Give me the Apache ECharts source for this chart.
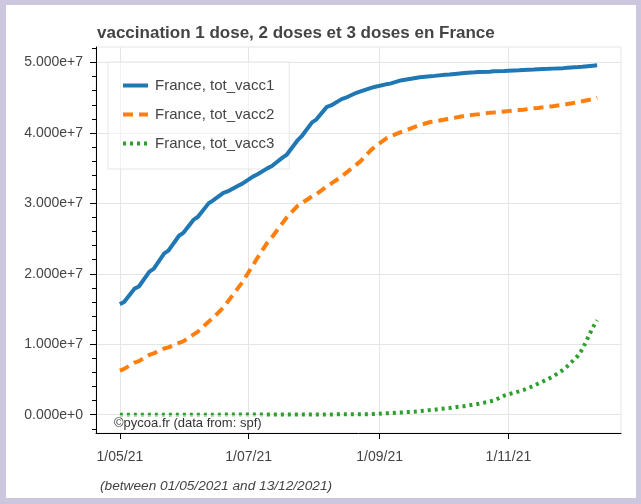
<!DOCTYPE html>
<html>
<head>
<meta charset="utf-8">
<title>vaccination France</title>
<script src="https://cdn.jsdelivr.net/npm/echarts@6/dist/echarts.min.js"></script>
<style>
  html, body { margin: 0; padding: 0; background: #cdc6df; }
  #chart { width: 641px; height: 504px; }
</style>
</head>
<body>
<div id="chart"></div>
<script>
// Sample dates (Saturdays and Mondays), cumulative counts in millions
const dates = [
  '2021-05-01','2021-05-03','2021-05-08','2021-05-10','2021-05-15','2021-05-17','2021-05-22','2021-05-24',
  '2021-05-29','2021-05-31','2021-06-05','2021-06-07','2021-06-12','2021-06-14','2021-06-19','2021-06-21',
  '2021-06-26','2021-06-28','2021-07-03','2021-07-05','2021-07-10','2021-07-12','2021-07-17','2021-07-19',
  '2021-07-24','2021-07-26','2021-07-31','2021-08-02','2021-08-07','2021-08-09','2021-08-14','2021-08-16',
  '2021-08-21','2021-08-23','2021-08-28','2021-08-30','2021-09-04','2021-09-06','2021-09-11','2021-09-13',
  '2021-09-18','2021-09-20','2021-09-25','2021-09-27','2021-10-02','2021-10-04','2021-10-09','2021-10-11',
  '2021-10-16','2021-10-18','2021-10-23','2021-10-25','2021-10-30','2021-11-01','2021-11-06','2021-11-08',
  '2021-11-13','2021-11-15','2021-11-20','2021-11-22','2021-11-27','2021-11-29','2021-12-04','2021-12-06',
  '2021-12-11','2021-12-13'
];

const totVacc1 = [
  15.7, 16.0, 17.9, 18.2, 20.3, 20.7, 22.9, 23.3,
  25.4, 25.8, 27.7, 28.1, 30.0, 30.4, 31.5, 31.7,
  32.5, 32.8, 33.8, 34.1, 35.0, 35.3, 36.5, 36.9,
  38.9, 39.5, 41.5, 41.9, 43.7, 43.9, 44.8, 45.0,
  45.7, 45.9, 46.4, 46.55, 46.9, 47.0, 47.45, 47.55,
  47.8, 47.9, 48.05, 48.1, 48.25, 48.3, 48.45, 48.5,
  48.6, 48.65, 48.7, 48.75, 48.8, 48.83, 48.9, 48.93,
  49.0, 49.03, 49.1, 49.13, 49.2, 49.25, 49.35, 49.4,
  49.55, 49.6
];

const totVacc2 = [
  6.25, 6.5, 7.4, 7.6, 8.5, 8.7, 9.4, 9.55,
  10.2, 10.4, 11.4, 11.8, 13.2, 13.7, 15.2, 16.0,
  18.0, 18.8, 21.2, 22.2, 24.5, 25.2, 27.2, 28.0,
  29.6, 30.0, 31.0, 31.3, 32.4, 32.8, 33.8, 34.3,
  35.5, 36.0, 37.6, 38.1, 39.2, 39.5, 40.1, 40.3,
  40.9, 41.1, 41.55, 41.65, 41.9, 42.0, 42.3, 42.4,
  42.6, 42.65, 42.85, 42.9, 43.05, 43.1, 43.25, 43.3,
  43.5, 43.55, 43.75, 43.8, 44.0, 44.1, 44.35, 44.5,
  44.8, 45.0
];

const totVacc3 = [
  0.00, 0.00, 0.00, 0.00, 0.00, 0.00, 0.00, 0.00,
  0.00, 0.00, 0.00, 0.00, 0.00, 0.00, 0.01, 0.01,
  0.01, 0.01, 0.01, 0.01, 0.02, 0.02, 0.02, 0.02,
  0.03, 0.03, 0.03, 0.03, 0.04, 0.04, 0.05, 0.05,
  0.06, 0.06, 0.08, 0.10, 0.20, 0.22, 0.30, 0.35,
  0.45, 0.50, 0.65, 0.70, 0.90, 0.95, 1.15, 1.20,
  1.45, 1.55, 1.85, 2.00, 2.70, 2.90, 3.30, 3.50,
  4.10, 4.40, 5.10, 5.40, 6.40, 6.90, 8.40, 9.30,
  12.4, 13.4
];

const seriesNames = ['France, tot_vacc1', 'France, tot_vacc2', 'France, tot_vacc3'];
const seriesColors = ['#1f77b4', '#ff7f0e', '#2ca02c'];

const xTickDates = ['2021-05-01', '2021-07-01', '2021-09-01', '2021-11-01'];
const yTickValues = [0, 1e7, 2e7, 3e7, 4e7, 5e7];

const titleText = 'vaccination 1 dose, 2 doses et 3 doses en France';
const footerText = '(between 01/05/2021 and 13/12/2021)';
const creditText = '\u00a9pycoa.fr (data from: spf)';

// x positions are day numbers counted from the first date
const DAY = 86400000;
const toTime = s => { const p = s.split('-').map(Number); return Date.UTC(p[0], p[1] - 1, p[2]); };
const t0 = toTime(dates[0]);
const toDay = s => Math.round((toTime(s) - t0) / DAY);
const pad2 = n => (n < 10 ? '0' : '') + n;
const fmtDay = v => {
  const d = new Date(t0 + Math.round(v) * DAY);
  return d.getUTCDate() + '/' + pad2(d.getUTCMonth() + 1) + '/' + String(d.getUTCFullYear()).slice(2);
};

// 5 % range padding on both sides of the data span
const dFirst = 0;
const dLast = toDay(dates[dates.length - 1]);
const xPad = (dLast - dFirst) * 0.05;
const yMin = -2.6e6, yMax = 5.22e7;

// minor ticks every 2e6 between the major ones
const yMinorTicks = [];
for (let k = -1; k <= 26; k++) { if (k % 5 !== 0) yMinorTicks.push(k * 2e6); }

const font = 'Liberation Sans, Arial, Helvetica, sans-serif';
const toPairs = arr => dates.map((d, i) => [toDay(d), arr[i] * 1e6]);
const dashStyles = ['solid', [10, 6], [3, 4]];

const series = [totVacc1, totVacc2, totVacc3].map((arr, i) => ({
  name: seriesNames[i],
  type: 'line',
  data: toPairs(arr),
  symbol: 'none',
  showSymbol: false,
  smooth: false,
  color: seriesColors[i],
  itemStyle: { opacity: 0 },
  lineStyle: { color: seriesColors[i], width: 4, type: dashStyles[i], cap: 'butt' },
  emphasis: { disabled: true },
  z: 3 + (2 - i)
}));

const xTickDays = xTickDates.map(toDay);
const plotBox = { left: 96, top: 47, right: 20, bottom: 71 };

const chart = echarts.init(document.getElementById('chart'), null, { renderer: 'canvas' });
chart.setOption({
  animation: false,
  backgroundColor: '#cdc6df',
  title: {
    text: titleText,
    left: 97, top: 25, padding: 0,
    textStyle: { fontFamily: font, fontSize: 17, fontWeight: 'bold', color: '#444' }
  },
  grid: [
    Object.assign({ show: true, backgroundColor: '#fff', borderColor: '#e5e5e5', borderWidth: 1, containLabel: false }, plotBox),
    // second, transparent grid carrying only the minor ticks of the y axis
    Object.assign({ show: false, containLabel: false }, plotBox)
  ],
  legend: {
    data: seriesNames,
    orient: 'vertical',
    left: 108, top: 62,
    padding: [16, 15, 18, 13],
    itemWidth: 25, itemHeight: 14, itemGap: 14,
    backgroundColor: 'rgba(255,255,255,0.5)',
    borderColor: '#e5e5e5', borderWidth: 1, borderRadius: 0,
    selectedMode: false,
    itemStyle: { opacity: 0 },
    lineStyle: { width: 4 },
    textStyle: { fontFamily: font, fontSize: 15, color: '#444', padding: [0, 0, 0, 2] }
  },
  xAxis: [{
    type: 'value', gridIndex: 0,
    min: dFirst - xPad, max: dLast + xPad,
    axisLine: { show: true, onZero: false, lineStyle: { color: '#000', width: 1 } },
    axisTick: { show: true, length: 6, customValues: xTickDays, lineStyle: { color: '#000' } },
    axisLabel: { customValues: xTickDays, formatter: fmtDay, margin: 17,
      fontFamily: font, fontSize: 14, color: '#444' },
    splitLine: { show: true, lineStyle: { color: '#e5e5e5', width: 1 } }
  }, {
    // helper axis: its zero sits on the left edge, so the minor-tick axis attaches there
    type: 'value', gridIndex: 1,
    min: 0, max: 1,
    axisLine: { show: false, onZero: false },
    axisTick: { show: false },
    axisLabel: { show: false },
    splitLine: { show: false }
  }],
  yAxis: [{
    type: 'value', gridIndex: 0,
    min: yMin, max: yMax,
    axisLine: { show: true, onZero: false, lineStyle: { color: '#000', width: 1 } },
    axisTick: { show: true, length: 6, customValues: yTickValues, lineStyle: { color: '#000' } },
    axisLabel: { customValues: yTickValues, formatter: v => v.toExponential(3), margin: 13,
      fontFamily: font, fontSize: 14, color: '#444' },
    splitLine: { show: true, lineStyle: { color: '#e5e5e5', width: 1 } }
  }, {
    type: 'value', gridIndex: 1,
    min: yMin, max: yMax,
    position: 'left',
    axisLine: { show: false, onZero: true },
    axisTick: { show: true, length: 4, customValues: yMinorTicks, lineStyle: { color: '#000', width: 1 } },
    axisLabel: { show: false },
    splitLine: { show: false }
  }],
  graphic: [
    { type: 'rect', z: -10, silent: true, shape: { x: 6, y: 5, width: 630, height: 493 }, style: { fill: '#fff' } },
    { type: 'text', z: 100, left: 110, top: 415, silent: true,
      style: { text: creditText, font: '13px ' + font, fill: '#333',
        backgroundColor: 'rgba(255,255,255,0.5)', padding: [2, 3, 2, 4] } },
    { type: 'text', z: 100, left: 100, top: 479, silent: true,
      style: { text: footerText, font: 'italic 13.7px ' + font, fill: '#444' } }
  ],
  series: series
});
</script>
</body>
</html>
